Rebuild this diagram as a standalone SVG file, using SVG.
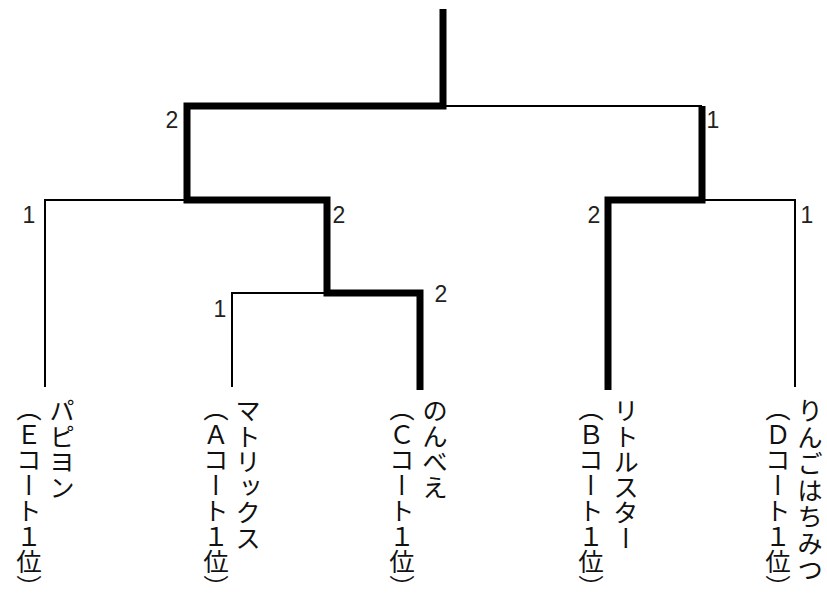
<svg xmlns="http://www.w3.org/2000/svg" width="827" height="602" viewBox="0 0 827 602">
<style>
.thick{fill:none;stroke:#000;stroke-width:7;stroke-linejoin:miter;stroke-linecap:butt}
.thin{fill:none;stroke:#000;stroke-width:2;stroke-linejoin:miter;stroke-linecap:butt}
.num{font-family:"Liberation Sans",Arial,sans-serif;font-size:23px;fill:#222;text-anchor:middle}
.v{font-family:"Noto Sans CJK JP",sans-serif;font-size:25.5px;fill:#111;writing-mode:vertical-rl}
</style>
<rect width="827" height="602" fill="#fff"/>
<g id="connectors">
<path class="thin" d="M443,106 H702"/>
<path class="thin" d="M187,200 H45 V387"/>
<path class="thin" d="M327,293 H232 V387"/>
<path class="thin" d="M702,200 H795 V387"/>
<path class="thick" d="M443,9 V106 H187 V200 H327 V293 H420 V390"/>
<path class="thick" d="M702,106 V200 H608 V390"/>
</g>
<g id="scores">
<text class="num" x="172" y="128">2</text>
<text class="num" x="713" y="128">1</text>
<text class="num" x="29" y="223">1</text>
<text class="num" x="339" y="223">2</text>
<text class="num" x="594" y="223">2</text>
<text class="num" x="807" y="223">1</text>
<text class="num" x="220" y="317">1</text>
<text class="num" x="441" y="302">2</text>
</g>
<g id="team-papillon">
<text class="v" x="62" y="398">パピヨン</text>
<text class="v" x="29" y="396">（Ｅコート１位）</text>
</g>
<g id="team-matrix">
<text class="v" x="248" y="398">マトリックス</text>
<text class="v" x="216" y="396">（Ａコート１位）</text>
</g>
<g id="team-nonbee">
<text class="v" x="435" y="398">のんべえ</text>
<text class="v" x="402" y="396">（Ｃコート１位）</text>
</g>
<g id="team-littlestar">
<text class="v" x="626" y="398">リトルスター</text>
<text class="v" x="591" y="396">（Ｂコート１位）</text>
</g>
<g id="team-ringo">
<text class="v" x="810" y="398" letter-spacing="1">りんごはちみつ</text>
<text class="v" x="778" y="396">（Ｄコート１位）</text>
</g>
</svg>
